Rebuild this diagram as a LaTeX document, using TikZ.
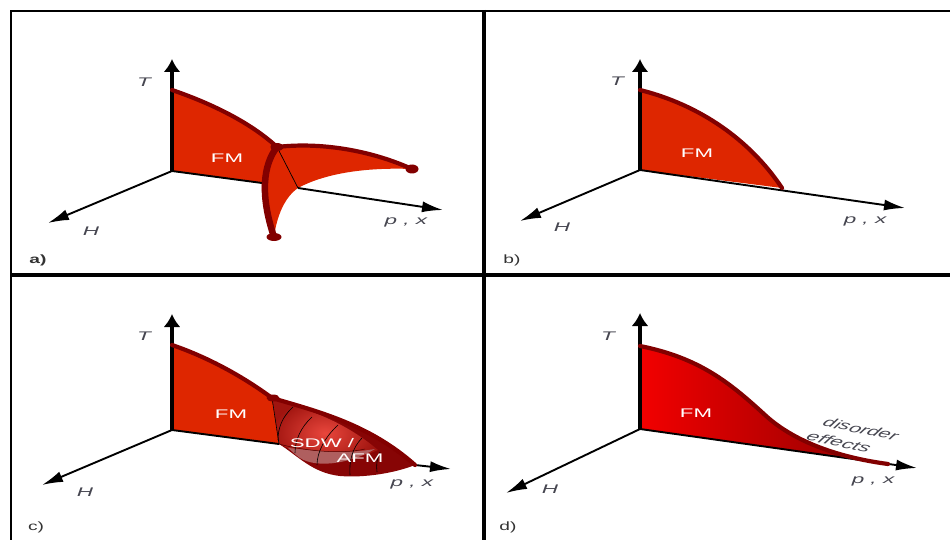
\documentclass[tikz,border=0pt]{standalone}
\usepackage{fontspec}
\setmainfont{Liberation Sans}
\usetikzlibrary{arrows.meta,shapes.geometric}
\definecolor{fm}{RGB}{222,38,0}
\definecolor{ridge}{RGB}{130,0,0}
\definecolor{afm}{RGB}{135,5,5}
\definecolor{lbl}{RGB}{70,70,80}
\tikzset{x=1pt,y=-1pt,
 frameline/.style={line width=2.2pt,black},
 divider/.style={line width=3.6pt,black},
 axisT/.style={line width=4pt,-{Latex[length=13pt,width=17pt]}},
 axisO/.style={line width=1.9pt,-{Latex[length=21pt,width=11pt]}},
 ridgeline/.style={draw=ridge,line width=4.2pt,line cap=round},
 ax/.style={font=\fontsize{12.5}{12.5}\selectfont\itshape,text=lbl,inner sep=0pt,xscale=1.8},
 fmlabel/.style={font=\fontsize{12.5}{12.5}\selectfont,text=white,inner sep=0pt,xscale=1.78},
 tag/.style={font=\fontsize{12}{12}\selectfont,text=black!80,inner sep=0pt,xscale=1.6},
 blob/.style={ellipse,fill=ridge,inner sep=0pt,minimum width=13pt,minimum height=8pt}}
\begin{document}
\begin{tikzpicture}
\useasboundingbox (0,0) rectangle (950,540);
% frame
\draw[frameline] (11,540) -- (11,11) -- (950,11);
\draw[divider] (484,10) -- (484,540);
\draw[divider] (11,275) -- (950,275);
%%%%% a
\coordinate (aO) at (172,171);
\coordinate (aJ) at (277,147);
\coordinate (aR) at (412,169);
\coordinate (aD) at (274,237);
\fill[fm] (172,90) .. controls (210,103) and (250,122) .. (277,147)
  .. controls (320,142) and (370,150) .. (412,169)
  .. controls (360,167) and (322,175) .. (298,188)
  .. controls (285,197) and (277,215) .. (274,237)
  .. controls (265,215) and (261,195) .. (262,183) -- (172,171) -- cycle;
\draw[black,line width=.7pt] (aJ) -- (298,188);
\draw[axisO] (aO) -- (48,223);
\draw[line width=1.9pt] (aO) -- (262,183);
\draw[axisO] (298,188) -- (443,210);
\draw[axisT] (aO) -- (172,59);
\draw[ridgeline] (172,90) .. controls (210,103) and (250,122) .. (277,147)
  .. controls (320,142) and (370,150) .. (412,169);
\draw[ridge,line width=6.5pt] (277,147) .. controls (263,165) and (260,195) .. (274,237);
\node[blob] (aj) at (aJ) {};
\node[blob,minimum height=9pt] (ar) at (aR) {};
\node[blob,minimum width=15pt] (ad) at (aD) {};
\node[ax] (aT) at (144,82) {T};
\node[ax] (aH) at (91,231) {H};
\node[ax] (aP) at (406,222) {p , x};
\node[fmlabel] (aF) at (227,158) {FM};
\node[tag] (at) at (38,260) {\textbf{a)}};
%%%%% b
\coordinate (bO) at (640,170);
\fill[fm] (640,90) .. controls (700,105) and (750,140) .. (782,188) -- (bO) -- cycle;
\draw[axisO] (bO) -- (520,221);
\draw[axisO] (bO) -- (905,208);
\draw[axisT] (bO) -- (640,59);
\draw[ridgeline] (640,90) .. controls (700,105) and (750,140) .. (782,188);
\node[ax] (bT) at (617,81) {T};
\node[ax] (bH) at (562,227) {H};
\node[ax] (bP) at (865,221) {p , x};
\node[fmlabel] (bF) at (697,153) {FM};
\node[tag] (bt) at (512,260) {b)};
%%%%% c
\coordinate (cO) at (172,430);
\coordinate (cJ) at (272,398);
\coordinate (cA) at (279,444);
\coordinate (cE) at (415,465);
\fill[fm] (172,345) .. controls (210,358) and (245,378) .. (cJ) -- (cA) -- (cO) -- cycle;
\fill[afm] (cJ) .. controls (320,412) and (370,425) .. (cE)
  .. controls (395,473) and (365,478) .. (340,476)
  .. controls (312,473) and (297,455) .. (cA) -- cycle;
\shade[inner color={rgb,255:red,232;green,70;blue,60},outer color={rgb,255:red,160;green,20;blue,15}]
  (cJ) .. controls (310,410) and (345,422) .. (378,450)
  .. controls (350,462) and (318,468) .. (297,452) -- (cA) -- cycle;
\fill[fill={rgb,255:red,175;green,95;blue,95}] (288,448) .. controls (310,450) and (340,455) .. (375,449)
  .. controls (350,464) and (312,470) .. (296,455) -- cycle;
\draw[black,line width=.6pt] (cJ) -- (cA);
\draw[black!70!red,line width=.5pt] (cA) .. controls (300,450) and (340,455) .. (365,449);
\draw[black,line width=.6pt] (293,407) .. controls (282,417) and (278,428) .. (278,440);
\draw[black,line width=.6pt] (312,417) .. controls (301,427) and (295,440) .. (295,453);
\draw[black,line width=.6pt] (338,425) .. controls (325,437) and (317,452) .. (317,465);
\draw[black,line width=.6pt] (362,438) .. controls (352,448) and (349,462) .. (350,475);
\draw[black,line width=.6pt] (380,452) .. controls (377,458) and (376,465) .. (377,472);
\draw[axisO] (cO) -- (42,485);
\draw[line width=1.9pt] (cO) -- (cA);
\draw[axisO] (cE) -- (451,469);
\draw[axisT] (cO) -- (172,314);
\draw[ridgeline] (172,345) .. controls (210,358) and (245,378) .. (cJ)
  .. controls (320,412) and (370,425) .. (cE);
\node[blob,minimum width=13pt,minimum height=7pt] (cj) at (273,398) {};
\node[ax] (cT) at (144,336) {T};
\node[ax] (cH) at (85,492) {H};
\node[ax] (cP) at (412,484) {p , x};
\node[fmlabel] (cF) at (231,414) {FM};
\node[fmlabel] (cS) at (322,443) {SDW /};
\node[fmlabel] (cM) at (360,458) {AFM};
\node[tag] (ct) at (36,527) {c)};
%%%%% d
\coordinate (dO) at (640,429);
\coordinate (dE) at (888,464);
\shade[left color=red!95!black,right color=red!55!black] (640,346) .. controls (700,358) and (730,383) .. (765,415)
  .. controls (792,440) and (835,457) .. (dE) -- (dO) -- cycle;
\draw[axisO] (dO) -- (506,493);
\draw[axisO] (dO) -- (917,468);
\draw[axisT] (dO) -- (640,313);
\draw[ridgeline] (640,346) .. controls (700,358) and (730,383) .. (765,415)
  .. controls (792,440) and (835,457) .. (dE);
\node[ax] (dT) at (608,336) {T};
\node[ax] (dH) at (550,489) {H};
\node[ax] (dP) at (873,481) {p , x};
\node[fmlabel] (dF) at (696,413) {FM};
\node[ax,rotate=-20,xscale=.96] (dd) at (861,429) {disorder};
\node[ax,rotate=-20] (de) at (839,442) {effects};
\node[tag] (dt) at (508,527) {d)};
\end{tikzpicture}
\end{document}
